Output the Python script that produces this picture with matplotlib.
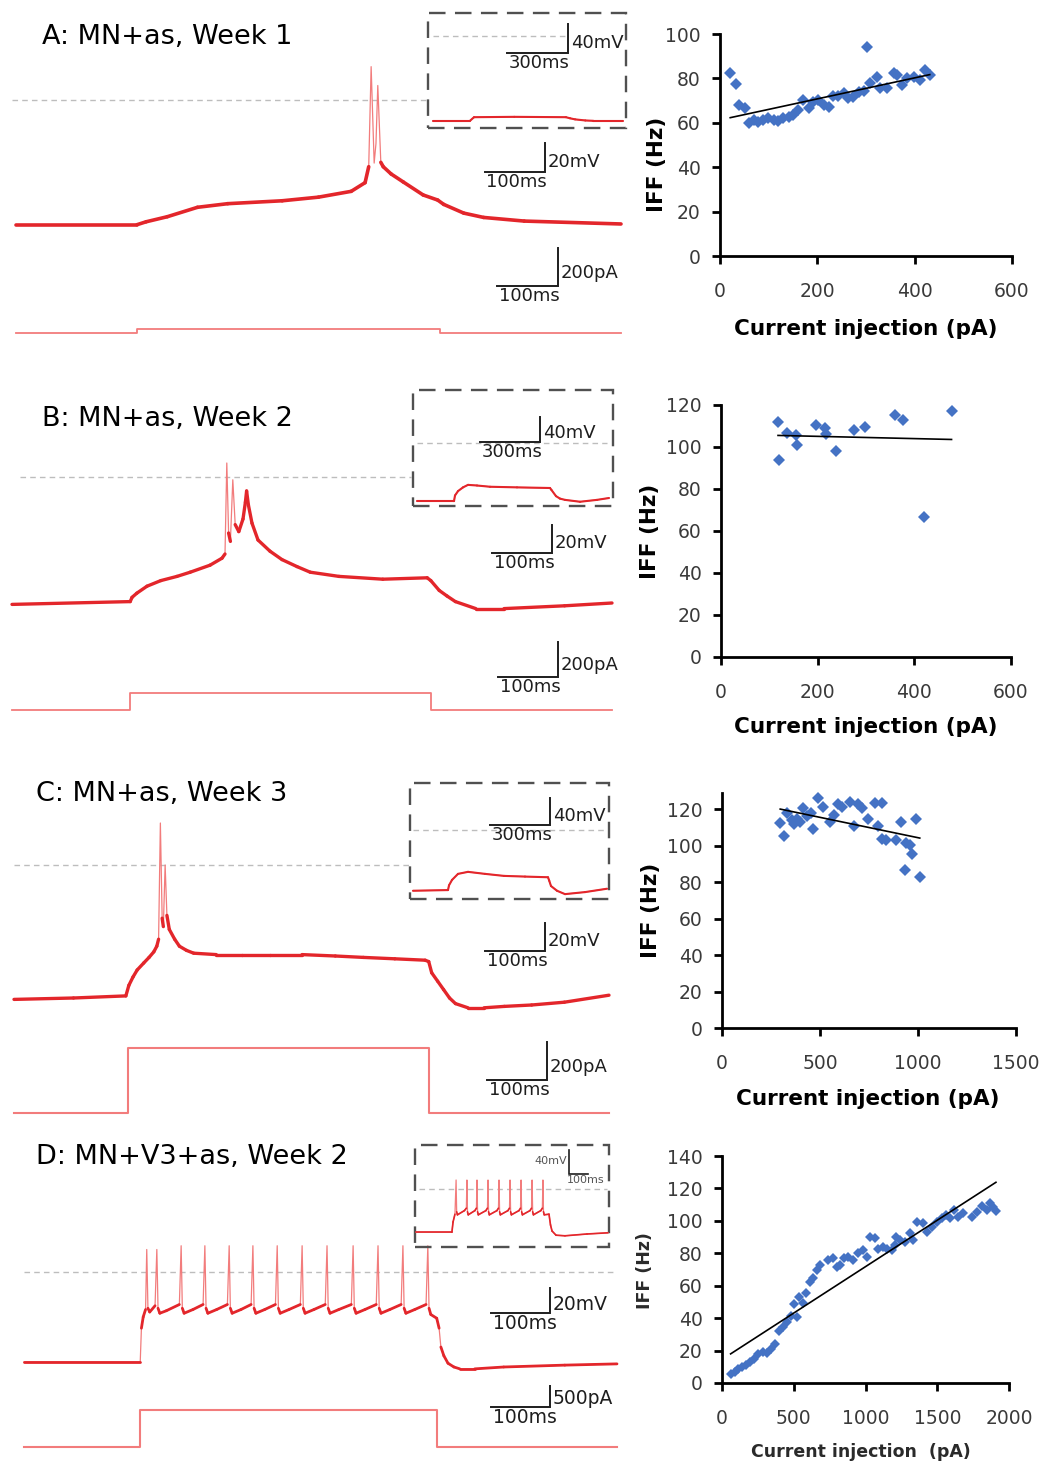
import numpy as np
import matplotlib
matplotlib.use("Agg")
import matplotlib.pyplot as plt
from matplotlib.collections import LineCollection
from matplotlib.patches import Rectangle

W, H = 1049, 1466
plt.rcParams['font.family'] = 'DejaVu Sans'

# ---------------- IFF vs injected current ----------------
a_current = [21, 33, 40, 51, 60, 69, 79, 89, 99, 110, 120, 130, 141, 151, 161, 171, 182, 192,
             202, 213, 223, 233, 243, 254, 264, 274, 285, 295, 303, 309, 322, 329, 343, 357,
             363, 374, 384, 398, 411, 422, 431]
a_iff = [82.3, 77.5, 68, 66.5, 59.8, 61.3, 60.5, 61.3, 62, 61.3, 61, 62, 62.8, 63.5, 65.8, 70.3,
         66.5, 69.5, 70.3, 68, 67, 72, 72, 73.3, 71, 71.8, 74, 74.5, 94, 77.8, 80.8, 75.5, 75.5,
         82.6, 81.5, 77, 80, 80.8, 79.3, 83.8, 81.5]

b_current = [118, 119, 136, 155, 157, 197, 216, 218, 238, 275, 298, 359, 377, 419, 477]
b_iff = [112, 93.8, 106.5, 105.7, 101, 110.5, 109, 106, 98, 108, 109.4, 115.2, 112.8, 66.8, 117.3]

c_current = [297, 317, 334, 356, 368, 381, 398, 415, 432, 453, 466, 492, 517, 551, 571, 593,
             610, 653, 673, 695, 712, 746, 780, 797, 817, 817, 836, 890, 915, 932, 941, 958,
             971, 988, 1009]
c_iff = [112.3, 105.4, 117.8, 114.1, 111.9, 115, 113.2, 120.9, 116.3, 118.1, 109, 126.5, 121.4,
         113.2, 116.9, 122.9, 121.4, 124.2, 110.8, 122.9, 120.5, 114.5, 123.6, 110.8, 123.3,
         103.5, 103.2, 103.2, 113.2, 86.7, 101.7, 100.4, 95.5, 114.5, 82.7]

d_current = [60, 91, 114, 137, 167, 195, 223, 253, 283, 311, 339, 369, 400, 423, 451, 479, 502,
             520, 539, 567, 585, 613, 636, 660, 683, 741, 771, 799, 822, 850, 880, 915, 950,
             980, 1008, 1031, 1066, 1089, 1120, 1152, 1182, 1206, 1213, 1240, 1275, 1310, 1333,
             1357, 1398, 1431, 1461, 1496, 1531, 1561, 1589, 1617, 1647, 1677, 1740, 1775,
             1810, 1844, 1868, 1886, 1909]
d_iff = [5.6, 7, 8.4, 10, 11, 12.7, 14.6, 17.9, 19.3, 18.7, 20.8, 23.8, 32, 34.7, 37.8, 41.3,
         48.7, 40.9, 53.2, 49.1, 55.3, 62.5, 64.6, 69.7, 72.8, 75.9, 76.9, 71.8, 72.8, 76.9,
         77.9, 75.9, 80, 82, 77.9, 90.3, 89.2, 82.4, 83.7, 82.4, 82, 85.1, 90.3, 88.2, 87.2,
         92.7, 88.2, 99.5, 98.5, 93.3, 96, 99.5, 101.6, 103.6, 101.6, 106.7, 102.6, 104.6,
         102.6, 105.7, 109.2, 106.7, 111.2, 108.8, 106.1]

# ---------------- membrane potential traces (ms, mV) ----------------
a_t = [0, 200, 215, 250, 300, 350, 440, 500, 554, 577, 583, 587, 592, 595, 598, 603, 607,
       620, 640, 673, 697, 707, 740, 773, 840, 1000]
a_v = [-86, -86, -84, -80.5, -74, -71.5, -69.5, -67, -63, -57, -46, 23, -43.5, -30, 10, -43,
       -46, -51, -56.5, -65.5, -69, -72, -78, -81, -83.5, -85.5]

b_t = [0, 197, 200, 208, 225, 248, 275, 297, 330, 350, 355, 358, 361, 364, 368, 372, 378, 385,
       389, 391, 394, 400, 410, 430, 450, 475, 497, 545, 618, 692, 698, 712, 725, 739, 773,
       820, 921, 1000]
b_v = [-91, -89, -86, -83, -78, -74, -71, -68, -63, -58, -55, 10, -40, -46, -2, -34, -39, -30,
       -18, -10, -20, -33, -45, -53, -59, -64, -68, -71, -73, -72, -74, -81, -85, -89, -94,
       -94, -92, -90]

c_t = [0, 100, 188, 193, 200, 207, 218, 227, 235, 240, 243, 246, 249, 251, 254, 257, 261, 270,
       278, 290, 302, 340, 383, 430, 484, 540, 587, 640, 691, 697, 702, 712, 722, 732, 742,
       763, 790, 824, 870, 925, 1000]
c_v = [-96, -95, -93.5, -86, -80, -75, -70, -66, -62, -58, -53, 30, -38, -44, 0, -36, -46, -53,
       -58, -61, -63, -64, -64, -64, -64, -65, -66, -67, -68, -69, -77, -83, -89, -95, -99,
       -102, -102, -101, -100, -98, -93]

d_t = [0, 196, 198, 201, 205, 207, 209, 212, 221, 224, 226, 229, 240, 262, 265, 267, 270, 285,
       302, 305, 307, 310, 325, 343, 346, 348, 351, 366, 383, 386, 388, 391, 406, 424, 427,
       429, 432, 447, 466, 469, 471, 474, 489, 508, 511, 513, 516, 531, 552, 555, 557, 560,
       575, 594, 597, 599, 602, 617, 636, 639, 641, 644, 659, 678, 681, 683, 686, 696, 700,
       703, 708, 715, 725, 735, 760, 809, 912, 1000]
d_v = [-72, -72, -45, -36, -30, 18, -29, -32, -27, 18, -29, -33, -31, -26, 21, -29, -33, -30,
       -26, 21, -29, -33, -30, -26, 21, -29, -33, -30, -26, 21, -29, -33, -30, -26, 21, -29,
       -33, -30, -26, 21, -29, -33, -30, -26, 21, -29, -33, -30, -26, 21, -29, -33, -30, -26,
       21, -29, -33, -30, -26, 21, -29, -33, -30, -26, 21, -29, -34, -37, -45, -60, -67, -73,
       -76, -77.5, -77.5, -76, -74.5, -73.5]

# longer sweeps shown in the dashed insets
ai_t = [0, 182, 202, 400, 655, 675, 700, 750, 790, 935]
ai_v = [-117, -117, -112, -111.5, -112, -113.5, -115, -116.5, -117, -117]
bi_t = [0, 185, 190, 205, 230, 255, 300, 365, 500, 665, 672, 695, 715, 740, 815, 900, 960]
bi_v = [-93, -93, -84, -77, -71, -67, -68, -70, -71, -72, -75, -85, -89, -91, -94, -91, -88]
ci_t = [0, 175, 180, 195, 225, 275, 360, 455, 560, 675, 681, 690, 720, 760, 860, 970]
ci_v = [-90, -89, -82, -74, -65, -62, -65, -68, -69, -70, -75, -83, -90, -95, -92, -87]
di_t = [0, 189, 195, 205, 211, 214, 218, 255, 265, 268, 271, 275, 310, 318, 321, 324, 328, 368,
        376, 379, 382, 386, 426, 434, 437, 440, 444, 484, 492, 495, 498, 502, 542, 550, 553,
        556, 560, 600, 608, 611, 614, 618, 657, 665, 668, 671, 675, 700, 708, 716, 737, 784,
        900, 1010]
di_v = [-72, -72, -55, -42, 15, -38, -43, -36, -32, 15, -38, -43, -36, -32, 15, -38, -43, -36,
        -32, 15, -38, -43, -36, -32, 15, -38, -43, -36, -32, 15, -38, -43, -36, -32, 15, -38,
        -43, -36, -32, 15, -38, -43, -36, -32, 15, -38, -43, -42, -60, -70, -77, -78, -75, -73]

# injected current steps (ms, pA)
a_step = ([0, 200, 200, 700, 700, 1000], [0, 0, 20, 20, 0, 0])
b_step = ([0, 197, 197, 698, 698, 1000], [0, 0, 100, 100, 0, 0])
c_step = ([0, 192, 192, 697, 697, 1000], [0, 0, 340, 340, 0, 0])
d_step = ([0, 196, 196, 696, 696, 1000], [0, 0, 770, 770, 0, 0])

RED = '#e3262b'
PINK = '#f27c7c'
BLUE = '#4472c4'
BAR = '#1e1e1e'

fig = plt.figure(figsize=(W / 100, H / 100), dpi=100)


def px_axes(left, top, right, bottom):
    return fig.add_axes([left / W, 1 - bottom / H, (right - left) / W, (bottom - top) / H])


def trace_axes(left, top, right, bottom, x0, sx, y0, sy):
    # x0/y0: pixel position of t=0 and of the zero level, sx/sy: pixels per unit
    ax = px_axes(left, top, right, bottom)
    ax.set_xlim((left - x0) / sx, (right - x0) / sx)
    ax.set_ylim((y0 - bottom) / sy, (y0 - top) / sy)
    ax.axis('off')
    return ax


def to_data(ax, x_px, y_px):
    return ax.transData.inverted().transform((x_px, H - y_px))


def draw_trace(ax, t, v, lw, thin=0.9, fast=4.0):
    t = np.asarray(t, float)
    v = np.asarray(v, float)
    # thin pale line underneath, slow parts redrawn thick on top
    ax.plot(t, v, color=PINK, lw=thin, solid_joinstyle='round')
    pts = np.column_stack([t, v])
    segs = np.stack([pts[:-1], pts[1:]], axis=1)
    slope = np.abs(np.diff(v) / np.maximum(np.diff(t), 1e-6))
    slow = slope <= fast
    lc = LineCollection(segs[slow], linewidths=lw, colors=RED, capstyle='round',
                        joinstyle='round')
    ax.add_collection(lc)


def zero_line(ax, x_px0, x_px1, lw=1.0):
    t0 = to_data(ax, x_px0, 0)[0]
    t1 = to_data(ax, x_px1, 0)[0]
    ax.plot([t0, t1], [0, 0], color='#bdbdbd', lw=lw, ls=(0, (4, 3)), zorder=0)


def scalebar(ax, x_px, y_px, dx, dy, xlab, ylab, fs=13, flip=False, lw=1.4, color=BAR):
    x, y = to_data(ax, x_px, y_px)
    if not flip:
        ax.plot([x - dx, x, x], [y, y, y + dy], color=color, lw=lw, solid_joinstyle='miter')
        ax.annotate(ylab, (x, y + dy * 0.35), xytext=(3, 0), textcoords='offset pixels',
                    ha='left', va='center', fontsize=fs, color=color)
        ax.annotate(xlab, (x - dx, y), xytext=(2, -1), textcoords='offset pixels',
                    ha='left', va='top', fontsize=fs, color=color)
    else:
        ax.plot([x, x, x + dx], [y + dy, y, y], color=color, lw=lw, solid_joinstyle='miter')
        ax.annotate(ylab, (x, y + dy * 0.55), xytext=(-2, 0), textcoords='offset pixels',
                    ha='right', va='center', fontsize=fs, color='#555555')
        ax.annotate(xlab, (x + dx, y), xytext=(16, -1), textcoords='offset pixels',
                    ha='right', va='top', fontsize=fs, color='#555555')


def inset_box(ax):
    ax.add_patch(Rectangle((0, 0), 1, 1, transform=ax.transAxes, fill=False,
                           ec='#505050', lw=1.7, ls=(0, (7, 4)), clip_on=False))


def iff_panel(box, x, y, xlim, xticks, ylim, yticks, ylab_px, xlab_px, ms=6.2,
              label_fs=15.5, xlab_text='Current injection (pA)', label_color='black'):
    ax = px_axes(*box)
    x = np.asarray(x, float)
    y = np.asarray(y, float)
    ax.plot(x, y, 'D', color=BLUE, ms=ms, mec=BLUE, mew=0, clip_on=False, zorder=3)
    k, b = np.polyfit(x, y, 1)
    xf = np.array([x.min(), x.max()])
    ax.plot(xf, k * xf + b, color='black', lw=1.2, zorder=4)
    ax.set_xlim(*xlim)
    ax.set_ylim(*ylim)
    ax.set_xticks(xticks)
    ax.set_yticks(yticks)
    for s in ('top', 'right'):
        ax.spines[s].set_visible(False)
    for s in ('left', 'bottom'):
        ax.spines[s].set_linewidth(2.0)
    ax.tick_params(direction='out', length=6, width=2, labelsize=13.5, labelcolor='#3a3a3a')
    ax.tick_params(axis='x', pad=13)
    ax.tick_params(axis='y', pad=8)
    fig.text(ylab_px[0] / W, 1 - ylab_px[1] / H, 'IFF (Hz)', rotation=90, ha='center',
             va='center', fontsize=label_fs, fontweight='bold', color=label_color)
    fig.text(xlab_px[0] / W, 1 - xlab_px[1] / H, xlab_text, ha='center', va='center',
             fontsize=label_fs, fontweight='bold', color=label_color)
    return ax


TITLE_FS = 19.5

# ---------------- panel A ----------------
fig.text(42 / W, 1 - 37 / H, 'A: MN+as, Week 1', fontsize=TITLE_FS, va='center', ha='left')
ax = trace_axes(0, 0, 630, 245, 16, 0.605, 100, 1.45)
zero_line(ax, 12, 427)
draw_trace(ax, a_t, a_v, 2.6)
scalebar(ax, 545, 172, 100, 20, '100ms', '20mV')
ax = trace_axes(0, 245, 630, 360, 16, 0.605, 333, 0.19)
ax.plot(*a_step, color=PINK, lw=1.3)
scalebar(ax, 558, 286, 100, 200, '100ms', '200pA')
ax = trace_axes(428, 13, 626, 128, 433, 0.203, 36, 0.725)
inset_box(ax)
zero_line(ax, 433, 565)
draw_trace(ax, ai_t, ai_v, 1.5)
scalebar(ax, 568, 53, 300, 40, '300ms', '40mV')
iff_panel((720, 34, 1012, 256), a_current, a_iff, (0, 600), [0, 200, 400, 600], (0, 100),
          range(0, 101, 20), (657, 164), (866, 329))

# ---------------- panel B ----------------
fig.text(42 / W, 1 - 419 / H, 'B: MN+as, Week 2', fontsize=TITLE_FS, va='center', ha='left')
ax = trace_axes(0, 385, 630, 625, 12, 0.6, 477, 1.4)
zero_line(ax, 20, 411)
draw_trace(ax, b_t, b_v, 2.4)
scalebar(ax, 552, 553, 100, 20, '100ms', '20mV')
ax = trace_axes(0, 625, 630, 725, 12, 0.6, 710, 0.175)
ax.plot(*b_step, color=PINK, lw=1.3)
scalebar(ax, 558, 677, 100, 200, '100ms', '200pA')
ax = trace_axes(413, 390, 613, 506, 417, 0.2, 443, 0.625)
inset_box(ax)
zero_line(ax, 417, 607)
draw_trace(ax, bi_t, bi_v, 1.5)
scalebar(ax, 540, 442, 300, 40, '300ms', '40mV')
iff_panel((721, 405, 1011, 657), b_current, b_iff, (0, 600), [0, 200, 400, 600], (0, 120),
          range(0, 121, 20), (650, 531), (866, 727))

# ---------------- panel C ----------------
fig.text(36 / W, 1 - 794 / H, 'C: MN+as, Week 3', fontsize=TITLE_FS, va='center', ha='left')
ax = trace_axes(0, 770, 630, 1020, 14, 0.595, 865, 1.4)
zero_line(ax, 14, 409)
draw_trace(ax, c_t, c_v, 2.4)
scalebar(ax, 545, 951, 100, 20, '100ms', '20mV')
ax = trace_axes(0, 1020, 630, 1125, 14, 0.595, 1113, 0.19)
ax.plot(*c_step, color=PINK, lw=1.5)
scalebar(ax, 547, 1080, 100, 200, '100ms', '200pA')
ax = trace_axes(410, 783, 609, 899, 413, 0.2, 830, 0.675)
inset_box(ax)
zero_line(ax, 413, 607)
draw_trace(ax, ci_t, ci_v, 1.5)
scalebar(ax, 550, 825, 300, 40, '300ms', '40mV')
iff_panel((722, 793, 1016, 1028), c_current, c_iff, (0, 1500), [0, 500, 1000, 1500],
          (0, 129), range(0, 121, 20), (651, 910), (868, 1099))

# ---------------- panel D ----------------
fig.text(36 / W, 1 - 1157 / H, 'D: MN+V3+as, Week 2', fontsize=TITLE_FS, va='center',
         ha='left')
ax = trace_axes(0, 1130, 630, 1385, 24, 0.593, 1272, 1.25)
zero_line(ax, 24, 617)
draw_trace(ax, d_t, d_v, 2.0)
scalebar(ax, 550, 1313, 100, 20, '100ms', '20mV', fs=13.5)
ax = trace_axes(0, 1385, 630, 1466, 24, 0.593, 1447, 0.048)
ax.plot(*d_step, color=PINK, lw=1.5)
scalebar(ax, 550, 1407, 100, 500, '100ms', '500pA', fs=13.5)
ax = trace_axes(415, 1145, 609, 1247, 416, 0.19, 1189, 0.6)
inset_box(ax)
zero_line(ax, 419, 607)
draw_trace(ax, di_t, di_v, 1.2)
scalebar(ax, 569, 1174, 100, 40, '100ms', '40mV', fs=8, flip=True, lw=1.2)
iff_panel((722, 1156, 1009, 1383), d_current, d_iff, (0, 2000),
          [0, 500, 1000, 1500, 2000], (0, 140), range(0, 141, 20), (645, 1271), (861, 1452),
          ms=5.0, label_fs=12.5, xlab_text='Current injection  (pA)', label_color='#2a2a2a')

fig.savefig('out.png', dpi=100)
